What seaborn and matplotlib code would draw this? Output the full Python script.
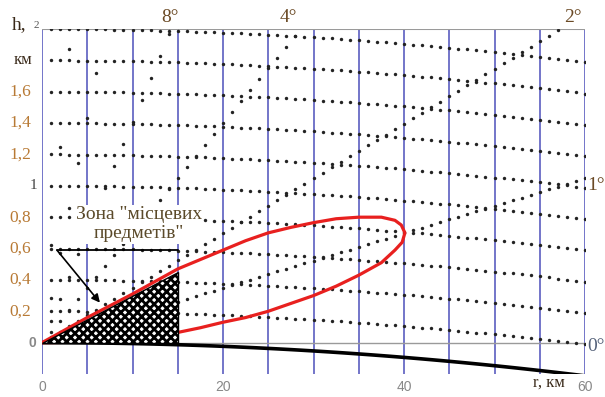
import numpy as np
import pandas as pd
import matplotlib.pyplot as plt
import seaborn as sns

# grid rows of constant height (km) and rays of constant elevation (deg)
row_h = [0.2, 0.4, 0.6, 0.8, 1.0, 1.2, 1.4, 1.6, 1.8, 2.0]
ray_deg = [1, 2, 4, 8, 16, 32]
dot_r = np.arange(1, 61)          # one dot per km of range
Re = 8500.0                       # effective earth radius, km

# red lobe (upper branch out, lower branch back)
lobe_r = [0, 5, 10, 15, 17.5, 20, 22.5, 25, 27.5, 30, 32.5, 35, 37.5, 39, 39.7, 40.1,
          39.8, 39, 37.5, 35, 32.5, 30, 27.5, 25, 22.5, 20, 17.5, 15, 12, 9, 6, 3, 0]
lobe_h = [0, 0.16, 0.31, 0.47, 0.53, 0.59, 0.65, 0.70, 0.735, 0.765, 0.79, 0.80, 0.80,
          0.78, 0.75, 0.70, 0.64, 0.59, 0.51, 0.43, 0.36, 0.30, 0.25, 0.20, 0.16, 0.13,
          0.095, 0.065, 0.035, 0.015, 0.006, 0.002, 0]

# zone of local objects
zone_r = [0, 15, 15]
zone_h = [0, 0, 0.45]

ytick_vals = [0, 0.2, 0.4, 0.6, 0.8, 1.0, 1.2, 1.4, 1.6, 1.8, 2.0]
ytick_text = ["0", "0,2", "0,4", "0,6", "0,8", "1", "1,2", "1,4", "1,6", "км", "2"]
xtick_vals = [0, 20, 40, 60]
xtick_text = ["0", "20", "40", "60"]

angle_lbl = ["8°", "4°", "2°"]
angle_lbl_r = [14.1, 27.2, 58.7]

sns.set_style("white")
plt.rcParams["hatch.linewidth"] = 2.0

earth_r = np.linspace(0, 60, 121)
earth_h = -earth_r ** 2 / (2 * Re)

rows = pd.DataFrame([(r, h0 - r ** 2 / (2 * Re)) for h0 in row_h for r in dot_r], columns=["r", "h"])
rays = pd.DataFrame([(r, r * np.tan(np.radians(a))) for a in ray_deg for r in dot_r], columns=["r", "h"])
dots = pd.concat([rows, rays])
dots = dots[dots["h"] <= 2.01]

lobe = pd.DataFrame({"r": lobe_r, "h": lobe_h})

fig = plt.figure(figsize=(6.05, 3.97), dpi=100)
ax = fig.add_axes([42 / 605, 23 / 397, 543 / 605, 345 / 397])

sns.scatterplot(data=dots, x="r", y="h", s=6, color="#222222", linewidth=0, ax=ax, zorder=2)

ax.vlines(np.arange(0, 61, 5), -0.2, 2.0, color="#5b5ec0", lw=1.2, zorder=1)
ax.axhline(0, color="#9a9a9a", lw=1.0, zorder=1)
ax.axhline(2.0, color="#9a9a9a", lw=1.5, zorder=1)

sns.lineplot(x=earth_r, y=earth_h, color="black", lw=2.6, ax=ax, zorder=3)
sns.lineplot(data=lobe, x="r", y="h", sort=False, estimator=None, color="#e8201f",
             lw=2.3, ax=ax, zorder=3)

ax.fill(zone_r, zone_h, facecolor="white", edgecolor="black", hatch="xxxx", lw=1.0, zorder=4)

ax.plot([1.65, 15], [0.59, 0.59], color="black", lw=1.3, zorder=5)
ax.annotate("", xy=(6.4, 0.255), xytext=(1.65, 0.59),
            arrowprops=dict(arrowstyle="-|>", color="black", lw=1.2, mutation_scale=12,
                            shrinkA=0, shrinkB=0), zorder=5)
ax.text(10.7, 0.755, "Зона \"місцевих\nпредметів\"", ha="center", va="center",
        family="Liberation Serif", fontsize=14, color="#5b4a2a", linespacing=1.15,
        bbox=dict(facecolor="white", edgecolor="none", pad=1), zorder=6)

ax.set_xlim(0, 60)
ax.set_ylim(-0.2, 2.0)
for s in ax.spines.values():
    s.set_visible(False)
ax.set_xlabel("")
ax.set_ylabel("")
ax.set_xticks(xtick_vals)
ax.set_xticklabels(xtick_text, color="#888888", fontsize=10, family="Liberation Sans")
ax.tick_params(axis="x", length=0, pad=4)
ax.set_yticks(ytick_vals)
ax.set_yticklabels([])
ax.tick_params(axis="y", direction="in", length=3, color="#999999")

ytr = ax.get_yaxis_transform()
for v, t in zip(ytick_vals, ytick_text):
    if t == "0":
        ax.text(-0.01, v, t, transform=ytr, ha="right", va="center", color="#888888",
                fontsize=10, family="Liberation Sans", fontweight="bold")
    elif t == "1":
        ax.text(-0.008, v, t, transform=ytr, ha="right", va="center", color="#444444",
                fontsize=11, family="Liberation Serif")
    elif t == "2":
        ax.text(-0.006, v + 0.02, t, transform=ytr, ha="right", va="center", color="#555555",
                fontsize=8, family="Liberation Serif")
    elif t == "км":
        ax.text(-0.017, v, t, transform=ytr, ha="right", va="center", color="#3a2a1a",
                fontsize=12, family="Liberation Serif")
    else:
        ax.text(-0.02, v, t, transform=ytr, ha="right", va="center", color="#b87a35",
                fontsize=12.5, family="Liberation Serif")
ax.text(-0.042, 2.03, "h,", transform=ytr, ha="center", va="center", color="#3a2a1a",
        fontsize=14, family="Liberation Serif")

for t, r in zip(angle_lbl, angle_lbl_r):
    ax.text(r, 2.02, t, ha="center", va="bottom", color="#6b4a25", fontsize=14,
            family="Liberation Serif")
ax.text(60.3, 1.0, "1°", ha="left", va="center", color="#6b4a25", fontsize=14,
        family="Liberation Serif")
ax.text(60.3, -0.025, "0°", ha="left", va="center", color="#55627a", fontsize=14,
        family="Liberation Serif")
ax.text(56.0, -0.255, "r, км", ha="center", va="center", color="#3a2a1a", fontsize=12,
        family="Liberation Serif")

fig.savefig("out.png", dpi=100)
